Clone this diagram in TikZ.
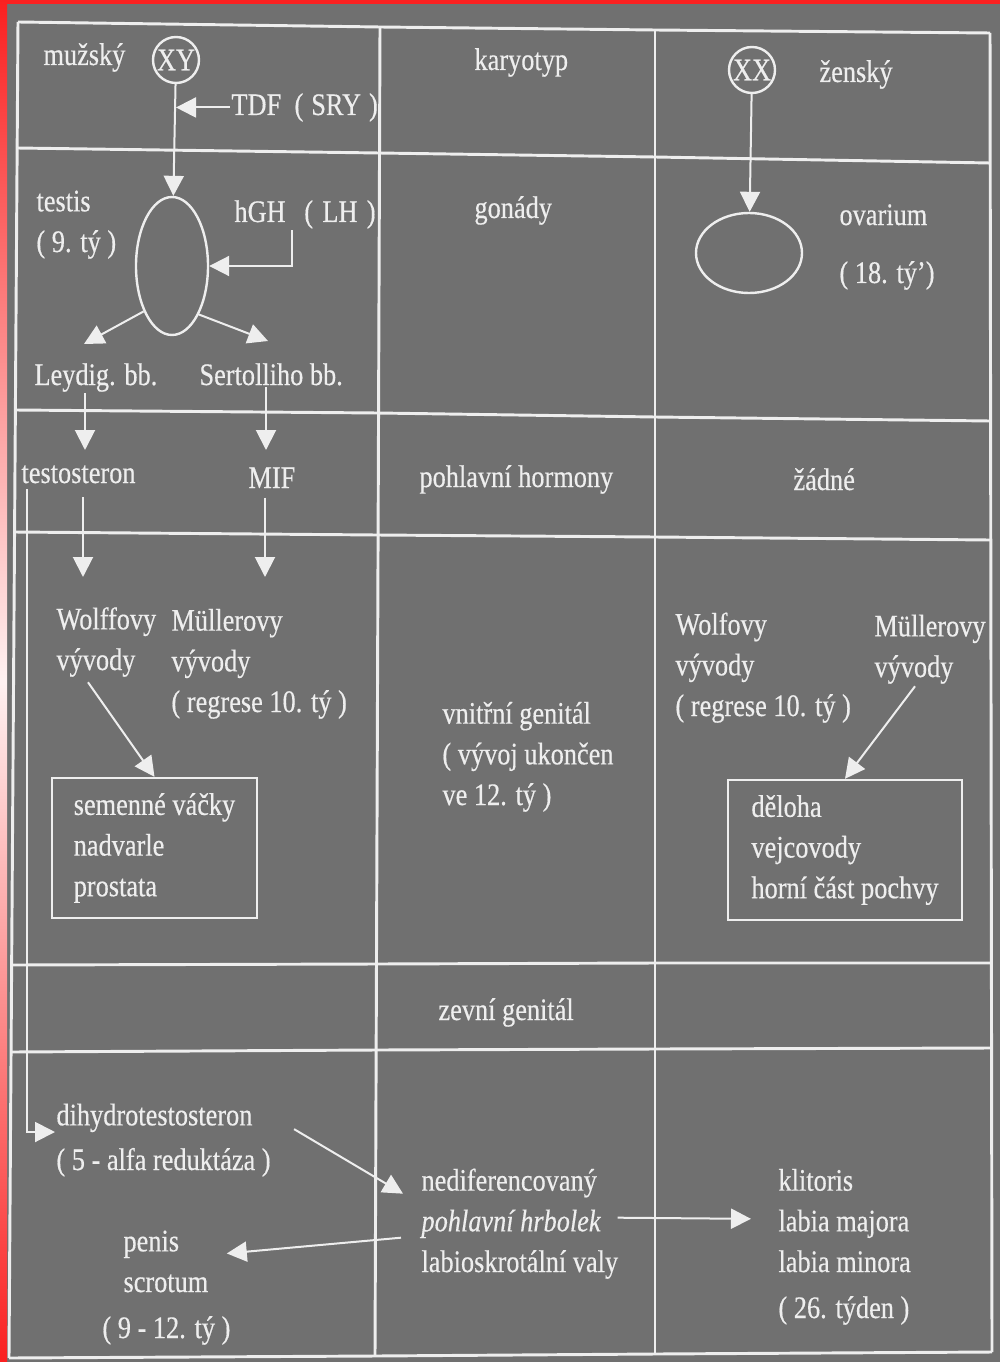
\documentclass[tikz,border=0pt]{standalone}
\usepackage{fontspec}
\setmainfont{Liberation Serif}[FakeStretch=0.84,FakeBold=0.4]
\usetikzlibrary{arrows.meta,shapes.geometric}
\definecolor{boardgray}{RGB}{112,112,112}
\definecolor{chalk}{RGB}{238,238,238}
\definecolor{edgered}{RGB}{250,32,32}
\tikzset{every picture/.style={line width=0.75pt}}
\tikzset{
  lbl/.style={anchor=base west, inner sep=0.75pt, align=left, text=chalk, font=\fontsize{23.5}{30.5}\selectfont},
  grid/.style={draw=chalk, line width=2.2pt, line join=round},
  arr/.style={draw=chalk, line width=1.5pt, -{Triangle[length=15pt,width=15pt]}},
  ring/.style={draw=chalk, line width=1.8pt, circle, inner sep=0pt, minimum size=34.5pt, text=chalk, font=\fontsize{23.5}{30.5}\selectfont},
  gonad/.style={draw=chalk, line width=1.8pt, ellipse, inner sep=0pt},
  listbox/.style={draw=chalk, line width=1.8pt, inner sep=0pt, align=left, minimum height=105pt, text=chalk, font=\fontsize{23.5}{30.5}\selectfont}
}

\begin{document}
\begin{tikzpicture}[x=0.75pt,y=0.75pt,yscale=-1,xscale=1]
\useasboundingbox (0,0) rectangle (1000,1362);

%Shape: Rectangle (board)
\fill[boardgray] (0,0) rectangle (1000,1362);
%Shape: Rectangle (top strip)
\fill[edgered] (0,0) rectangle (1000,4);
%Shape: Rectangle (left strip)
\shade[top color=edgered, bottom color=edgered, middle color=edgered!6] (0,0) rectangle (7,1362);

%Straight Lines: rows
\draw[grid] (18,22) -- (380,27) -- (655,30) -- (990,33);
\draw[grid] (17,148) -- (379,153) -- (655,157) -- (990,163);
\draw[grid] (15,410) -- (378,413) -- (655,417) -- (990,421);
\draw[grid] (14,532) -- (377,535) -- (655,537) -- (990,540);
\draw[grid] (12,965) -- (376,964) -- (655,963) -- (991,963);
\draw[grid] (11,1052) -- (376,1050) -- (655,1049) -- (991,1048);
\draw[grid] (9,1358) -- (375,1356) -- (655,1354) -- (992,1352);
%Straight Lines: columns
\draw[grid] (18,22) -- (9,1358);
\draw[grid] (380,27) -- (375,1356);
\draw[grid] (655,30) -- (655,1354);
\draw[grid] (990,33) -- (992,1352);

%Shape: Circle
\draw (176,60) node (xy) [ring] {XY};
%Shape: Circle
\draw (752,70) node (xx) [ring] {XX};
%Shape: Ellipse
\draw (172,266) node (testis) [gonad, minimum width=54pt, minimum height=103.5pt] {};
%Shape: Ellipse
\draw (749,253) node (ovarium) [gonad, minimum width=79.5pt, minimum height=60pt] {};
%Shape: Rectangle
\draw (154.5,848) node (semenne) [listbox, minimum width=153.75pt] {semenné váčky\\nadvarle\\prostata};
%Shape: Rectangle
\draw (845,850) node (deloha) [listbox, minimum width=175.5pt] {děloha\\vejcovody\\horní část pochvy};

% Text Node
\draw (42,65) node (muzsky) [lbl] {mužský};
% Text Node
\draw (230,115) node (tdf) [lbl] {TDF\hspace{10pt}(\hspace{6pt}SRY\hspace{6pt})};
% Text Node
\draw (473,70) node (karyotyp) [lbl] {karyotyp};
% Text Node
\draw (818,82) node (zensky) [lbl] {ženský};
% Text Node
\draw (35,252) node (testislbl) [lbl] {testis\\( 9. tý )};
% Text Node
\draw (233,222) node (hgh) [lbl] {hGH\hspace{14pt}(\hspace{7pt}LH\hspace{7pt})};
% Text Node
\draw (473,218) node (gonady) [lbl] {gonády};
% Text Node
\draw (838,283) node (ovariumlbl) [lbl] {ovarium\\[13pt]( 18. tý’)};
% Text Node
\draw (33,385) node (leydig) [lbl] {Leydig. bb.};
% Text Node
\draw (198,385) node (sertolli) [lbl] {Sertolliho bb.};
% Text Node
\draw (20,483) node (testo) [lbl] {testosteron};
% Text Node
\draw (247,488) node (mif) [lbl] {MIF};
% Text Node
\draw (418,487) node (hormony) [lbl] {pohlavní hormony};
% Text Node
\draw (792,490) node (zadne) [lbl] {žádné};
% Text Node
\draw (55,670) node (wolfL) [lbl] {Wolffovy\\vývody};
% Text Node
\draw (170,712) node (mulL) [lbl] {Müllerovy\\vývody\\( regrese 10. tý )};
% Text Node
\draw (441,805) node (vnitrni) [lbl] {vnitřní genitál\\( vývoj ukončen\\ve 12. tý )};
% Text Node
\draw (674,716) node (wolfR) [lbl] {Wolfovy\\vývody\\( regrese 10. tý )};
% Text Node
\draw (873,677) node (mulR) [lbl] {Müllerovy\\vývody};
% Text Node
\draw (437,1020) node (zevni) [lbl] {zevní genitál};
% Text Node
\draw (55,1170) node (dht) [lbl] {dihydrotestosteron\\[3pt]( 5 - alfa reduktáza )};
% Text Node
\draw (420,1272) node (nedif) [lbl] {nediferencovaný\\\textit{pohlavní hrbolek}\\labioskrotální valy};
% Text Node
\draw (122,1292) node (penis) [lbl] {penis\\scrotum};
% Text Node
\draw (101,1338) node (penisweek) [lbl] {( 9 - 12. tý )};
% Text Node
\draw (777,1318) node (klit) [lbl] {klitoris\\labia majora\\labia minora\\[4pt]( 26. týden )};

% arrow ends
\coordinate (leytip) at (84,344);
\coordinate (sertip) at (268,341);
\coordinate (testoin) at (85,450);
\coordinate (mifin) at (266,450);
\coordinate (wolfin) at (83,577);
\coordinate (mulin) at (265,577);
\coordinate (dhtcorner) at (27,1132);

%Straight Lines
\draw[arr] (xy) -- (testis);
\draw[arr] (tdf.west) -- (tdf.west -| xy.south);
\draw[arr] ([xshift=44pt]hgh.south west) |- (testis.east);
\draw[arr] (xx) -- (ovarium);
\draw[arr] (testis.238) -- (leytip);
\draw[arr] (testis.299) -- (sertip);
\draw[arr] (leydig.south -| testoin) -- (testoin);
\draw[arr] (sertolli.south -| mifin) -- (mifin);
\draw[arr, shorten <=9pt] (testo.south -| wolfin) -- (wolfin);
\draw[arr, shorten <=6pt] (mif.south -| mulin) -- (mulin);
\draw[arr, shorten <=3pt] (testo.south -| dhtcorner) -- (dhtcorner) -- (dhtcorner -| dht.west);
\draw[arr] ([shift={(33,4)}]wolfL.south west) -- (semenne.north);
\draw[arr] ([shift={(42,1)}]mulR.south west) -- (deloha.north);
\draw[arr] ([shift={(22,-11)}]dht.east) -- ([shift={(-17,-30)}]nedif.west);
\draw[arr] ([shift={(-19,14)}]nedif.west) -- ([shift={(17,-8)}]penis.east);
\draw[arr] ([shift={(-2,-6)}]nedif.east) -- ([shift={(-26,-28)}]klit.west);

\end{tikzpicture}
\end{document}
